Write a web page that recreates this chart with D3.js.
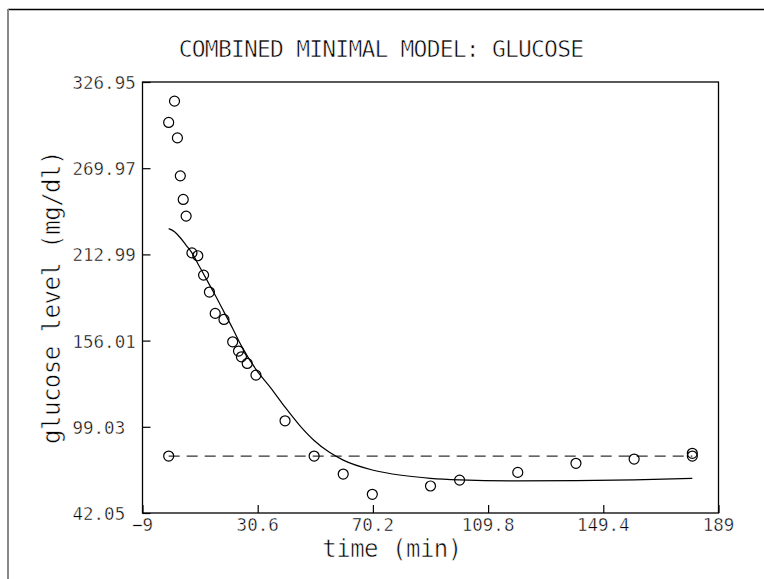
<!DOCTYPE html>
<html>
<head>
<meta charset="utf-8">
<script src="https://cdn.jsdelivr.net/npm/d3@7"></script>
<style>
  body { margin: 0; background: #fff; }
  text { font-family: "DejaVu Sans Mono", monospace; fill: #000; stroke: #fff; stroke-width: 0.6px; }
  .tick-label { font-size: 17.5px; stroke-width: 0.45px; }
  .title { font-size: 23px; letter-spacing: -0.8px; }
  .axis-label { font-size: 24px; letter-spacing: -0.5px; }
</style>
</head>
<body>
<svg width="764" height="579"></svg>
<script>
  // observed samples
  const times = [0, 2, 3, 4, 5, 6, 8, 10, 12, 14, 16, 19, 22, 24, 25, 27, 30, 40, 50, 60, 70, 90, 100, 120, 140, 160, 180];
  const glucose = [300.2, 314.3, 290.0, 264.9, 249.3, 238.3, 214.0, 212.1, 199.3, 188.1, 174.0, 170.0, 155.2, 149.1, 145.3, 140.9, 133.2, 103.0, 79.7, 67.8, 54.4, 59.9, 63.8, 68.9, 74.9, 77.7, 81.5];

  // model fit
  const modelTimes = [0, 2, 4, 6, 8, 10, 12, 14, 16, 19, 22, 25, 30, 35, 40, 45, 50, 55, 60, 70, 80, 90, 100, 120, 140, 160, 180];
  const modelGlucose = [230, 228, 224, 219, 214, 207, 200, 193, 186, 175, 164, 152.5, 137, 125, 112, 100, 90, 82.5, 77, 70.5, 67, 65, 64, 63.3, 63.5, 64, 65];

  // basal level
  const basalTimes = [0, 180];
  const basalGlucose = 79.7;

  const xTicks = [-9, 30.6, 70.2, 109.8, 149.4, 189];
  const yTicks = [42.05, 99.03, 156.01, 212.99, 269.97, 326.95];

  const svg = d3.select('svg');
  const width = +svg.attr('width');
  const height = +svg.attr('height');

  // outer frame (top + left only, like the clipped original)
  svg.append('line')
      .attr('x1', 8).attr('x2', width).attr('y1', 9.5).attr('y2', 9.5)
      .attr('stroke', '#000').attr('stroke-width', 1.5);
  svg.append('line')
      .attr('x1', 8).attr('x2', 8).attr('y1', 9).attr('y2', height)
      .attr('stroke', '#888').attr('stroke-width', 2);

  const margin = { top: 82, right: 45.5, bottom: 66, left: 142.5 };
  const innerWidth = width - margin.left - margin.right;
  const innerHeight = height - margin.top - margin.bottom;

  const xScale = d3.scaleLinear().domain([-9, 189]).range([0, innerWidth]);
  const yScale = d3.scaleLinear().domain([42.05, 326.95]).range([innerHeight, 0]);

  const g = svg.append('g')
      .attr('transform', `translate(${margin.left},${margin.top})`);

  g.append('rect')
      .attr('width', innerWidth).attr('height', innerHeight)
      .attr('fill', 'none').attr('stroke', '#000').attr('stroke-width', 1.3);

  // axes: inward ticks only, labels drawn separately
  const xAxisG = g.append('g')
      .attr('transform', `translate(0,${innerHeight})`)
      .call(d3.axisBottom(xScale).tickValues(xTicks).tickSize(-8).tickFormat(''));
  xAxisG.select('.domain').remove();
  xAxisG.selectAll('text').remove();
  xAxisG.selectAll('line').attr('stroke', '#000').attr('stroke-width', 1.2);

  const yAxisG = g.append('g')
      .call(d3.axisLeft(yScale).tickValues(yTicks).tickSize(-8).tickFormat(''));
  yAxisG.select('.domain').remove();
  yAxisG.selectAll('text').remove();
  yAxisG.selectAll('line').attr('stroke', '#000').attr('stroke-width', 1.2);

  g.selectAll('text.xtick').data(xTicks).enter().append('text')
      .attr('class', 'tick-label xtick')
      .attr('x', d => xScale(d))
      .attr('y', innerHeight + 18)
      .attr('text-anchor', 'middle')
      .text(d => d3.format('')(d));

  g.selectAll('text.ytick').data(yTicks).enter().append('text')
      .attr('class', 'tick-label ytick')
      .attr('x', -70)
      .attr('y', d => yScale(d) + 7)
      .text(d => d3.format('.2f')(d));

  // basal dashed line
  g.append('line')
      .attr('x1', xScale(basalTimes[0])).attr('x2', xScale(basalTimes[1]))
      .attr('y1', yScale(basalGlucose)).attr('y2', yScale(basalGlucose))
      .attr('stroke', '#333').attr('stroke-width', 1.2)
      .attr('stroke-dasharray', '11,7');

  // model curve
  const lineGenerator = d3.line()
      .x((d, i) => xScale(modelTimes[i]))
      .y(d => yScale(d))
      .curve(d3.curveMonotoneX);
  g.append('path')
      .attr('d', lineGenerator(modelGlucose))
      .attr('fill', 'none').attr('stroke', '#000').attr('stroke-width', 1.2);

  // data points
  g.selectAll('circle.obs').data(glucose).enter().append('circle')
      .attr('class', 'obs')
      .attr('cx', (d, i) => xScale(times[i]))
      .attr('cy', d => yScale(d))
      .attr('r', 5)
      .attr('fill', 'none').attr('stroke', '#000').attr('stroke-width', 1.2);

  g.selectAll('circle.basal').data(basalTimes).enter().append('circle')
      .attr('class', 'basal')
      .attr('cx', d => xScale(d))
      .attr('cy', yScale(basalGlucose))
      .attr('r', 5)
      .attr('fill', 'none').attr('stroke', '#000').attr('stroke-width', 1.2);

  // titles
  svg.append('text')
      .attr('class', 'title')
      .attr('x', 381).attr('y', 57)
      .attr('text-anchor', 'middle')
      .text('COMBINED MINIMAL MODEL: GLUCOSE');

  svg.append('text')
      .attr('class', 'axis-label')
      .attr('x', 392).attr('y', 557)
      .attr('text-anchor', 'middle')
      .text('time (min)');

  svg.append('text')
      .attr('class', 'axis-label')
      .attr('transform', `translate(60,${margin.top + innerHeight / 2}) rotate(-90)`)
      .attr('text-anchor', 'middle')
      .text('glucose level (mg/dl)');
</script>
</body>
</html>
